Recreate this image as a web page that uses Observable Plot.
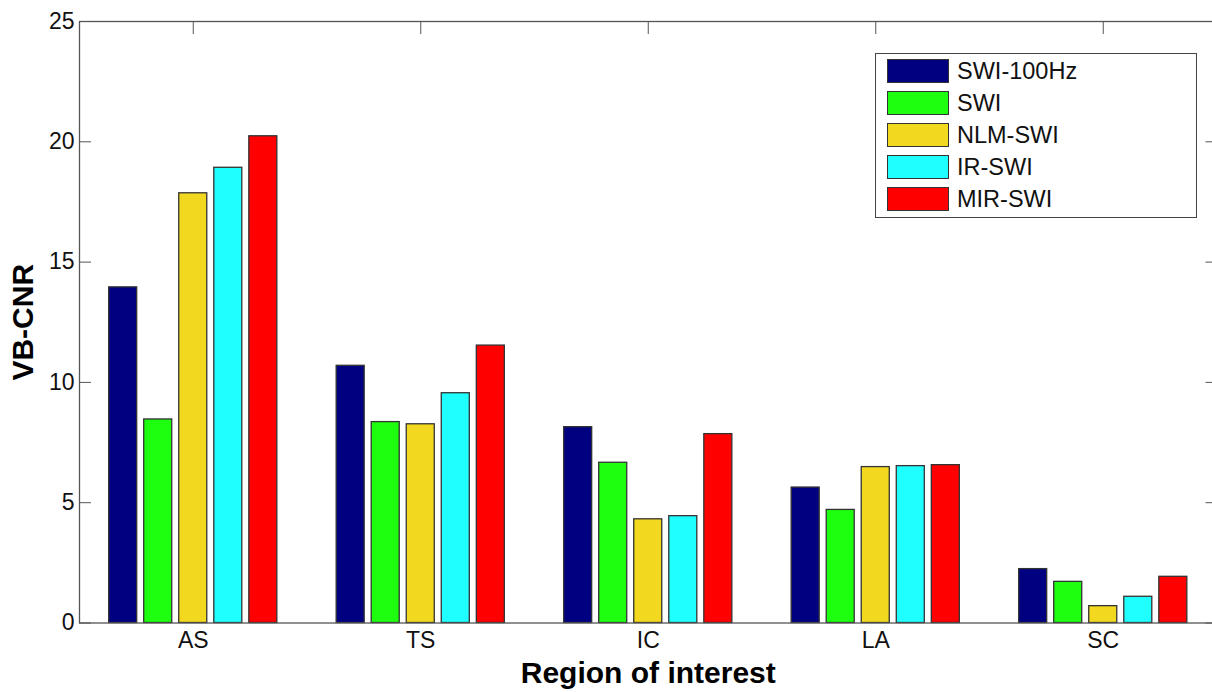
<!DOCTYPE html>
<html>
<head>
<meta charset="utf-8">
<script src="https://cdn.jsdelivr.net/npm/d3@7"></script>
<script src="https://cdn.jsdelivr.net/npm/@observablehq/plot@0.6"></script>
<style>
  html, body { margin: 0; padding: 0; background: #fff; overflow: hidden; }
  #wrap { position: relative; width: 1212px; height: 692px; font-family: "Liberation Sans", Arial, Helvetica, sans-serif; }
  #legend { position: absolute; left: 875px; top: 53px; width: 322px; height: 165px; border: 1px solid #444; background: #fff; box-sizing: border-box; }
  .item { position: absolute; left: 11px; height: 24px; display: flex; align-items: center; }
  .sw { width: 62px; height: 24px; box-sizing: border-box; border: 1px solid #333; }
  .lab { margin-left: 8px; font-size: 23.5px; color: #111; }
</style>
</head>
<body>
<div id="wrap"><div id="legend"></div></div>
<script>
const regions = ["AS", "TS", "IC", "LA", "SC"];
const methods = ["SWI-100Hz", "SWI", "NLM-SWI", "IR-SWI", "MIR-SWI"];
const colors = ["#000080", "#1eff10", "#f3d820", "#20ffff", "#ff0000"];
const swi100 = [13.95, 10.69, 8.14, 5.63, 2.24];
const swi    = [8.46, 8.35, 6.66, 4.70, 1.71];
const nlmSwi = [17.86, 8.26, 4.31, 6.48, 0.70];
const irSwi  = [18.92, 9.55, 4.44, 6.52, 1.09];
const mirSwi = [20.23, 11.53, 7.85, 6.56, 1.92];
const yTicks = [0, 5, 10, 15, 20, 25];

const series = [swi100, swi, nlmSwi, irSwi, mirSwi];
const groupWidth = 0.77;
const step = groupWidth / methods.length;
const barW = step * 0.8;
const data = [];
methods.forEach((m, j) => {
  regions.forEach((r, i) => {
    const c = (i + 1) + (j - (methods.length - 1) / 2) * step;
    data.push({region: r, method: m, value: series[j][i], x1: c - barW / 2, x2: c + barW / 2});
  });
});
const xPos = regions.map((r, i) => i + 1);

const font = '"Liberation Sans", Arial, Helvetica, sans-serif';
const chart = Plot.plot({
  width: 1212,
  height: 692,
  marginLeft: 79,
  marginRight: -4.5,
  marginTop: 21,
  marginBottom: 69.5,
  style: {fontFamily: font, fontSize: "23px", color: "#111", background: "transparent", overflow: "visible"},
  x: {type: "linear", domain: [0.5, 5.5]},
  y: {domain: [0, 25]},
  color: {domain: methods, range: colors},
  marks: [
    Plot.axisY(yTicks, {anchor: "left", tickSize: -12, tickFormat: () => "", stroke: "#555", label: null}),
    Plot.axisY(yTicks, {anchor: "right", tickSize: -12, tickFormat: () => "", stroke: "#555", label: null}),
    Plot.axisY(yTicks, {anchor: "left", tickSize: 0, tickPadding: 5, fill: "#111", label: null}),
    Plot.axisX(xPos, {anchor: "top", tickSize: -12, tickFormat: () => "", stroke: "#555", label: null}),
    Plot.axisX(xPos, {anchor: "bottom", tickSize: 0, tickPadding: 9, tickFormat: d => regions[d - 1], fill: "#111", label: null}),
    Plot.rectY(data, {x1: "x1", x2: "x2", y1: 0, y2: "value", fill: "method", stroke: "#333", strokeWidth: 1.3}),
    Plot.frame({stroke: "#555", strokeWidth: 1.3}),
    Plot.text(["VB-CNR"], {frameAnchor: "left", textAnchor: "middle", rotate: -90, dx: -56, fontWeight: "bold", fontSize: 30, fill: "#000"}),
    Plot.text(["Region of interest"], {frameAnchor: "bottom", textAnchor: "middle", dy: 60, fontWeight: "bold", fontSize: 30, fill: "#000"})
  ]
});
const wrap = document.getElementById("wrap");
wrap.insertBefore(chart, wrap.firstChild);

const legend = document.getElementById("legend");
methods.forEach((m, j) => {
  const it = document.createElement("div");
  it.className = "item";
  it.style.top = (5 + j * 32) + "px";
  const sw = document.createElement("div");
  sw.className = "sw";
  sw.style.background = colors[j];
  const lab = document.createElement("span");
  lab.className = "lab";
  lab.textContent = m;
  it.appendChild(sw);
  it.appendChild(lab);
  legend.appendChild(it);
});
</script>
</body>
</html>
